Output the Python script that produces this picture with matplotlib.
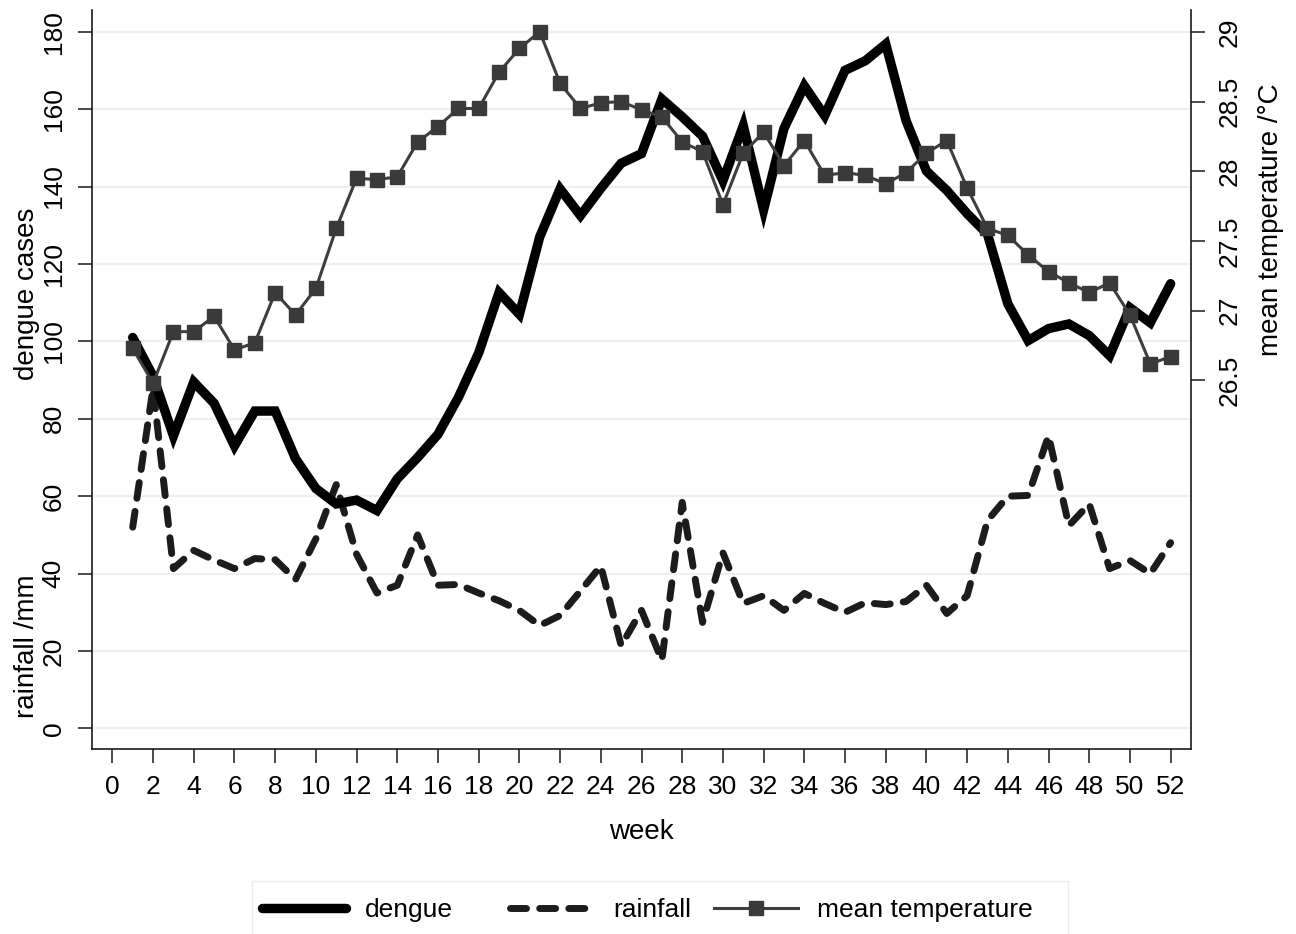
import matplotlib
matplotlib.use("Agg")
import matplotlib.pyplot as plt
from matplotlib.patches import Rectangle

plt.rcParams['font.family'] = ['Liberation Sans', 'DejaVu Sans']

weeks = list(range(1, 53))
dengue = [101, 91, 75.6, 89.5, 84, 73, 82, 82, 69.7, 62,
          58, 59, 56.3, 64.5, 70, 76, 85.5, 97, 112.6, 107,
          127, 139.4, 132.5, 139.5, 146, 148.5, 162.6, 158, 153, 141.5,
          155.7, 134, 155, 166, 158.3, 170, 172.5, 176.8, 157, 144,
          139, 133, 127.7, 109.7, 100.2, 103.3, 104.5, 101.5, 96.3, 108.7,
          104.8, 114.9]
rainfall = [52, 88, 41.3, 46, 43.5, 41.3, 43.9, 43.6, 38.5, 49,
            63, 45, 35, 37, 50, 37, 37.2, 35, 33, 30.5,
            26.6, 29.2, 35.5, 42, 21.4, 30.5, 17.6, 58.4, 27.4, 45.4,
            32.3, 34.3, 30.5, 34.9, 32.3, 30, 32.5, 32, 32.8, 37,
            29.7, 34.3, 53.7, 60, 60.2, 75.6, 52.4, 58, 41.3, 43.4,
            40, 48]
temperature = [26.73, 26.48, 26.85, 26.85, 26.96, 26.72, 26.77, 27.13, 26.97, 27.16,
               27.59, 27.95, 27.94, 27.96, 28.21, 28.32, 28.45, 28.45, 28.71, 28.88,
               29.0, 28.63, 28.45, 28.49, 28.50, 28.44, 28.39, 28.21, 28.14, 27.76,
               28.13, 28.28, 28.04, 28.22, 27.97, 27.99, 27.97, 27.91, 27.99, 28.13,
               28.22, 27.88, 27.59, 27.54, 27.40, 27.28, 27.20, 27.13, 27.20, 26.97,
               26.62, 26.67]

x_ticks = list(range(0, 53, 2))
left_ticks = list(range(0, 181, 20))
right_ticks = [26.5, 27, 27.5, 28, 28.5, 29]
right_labels = ['26.5', '27', '27.5', '28', '28.5', '29']

W, H = 1296, 934
fig = plt.figure(figsize=(W / 100, H / 100), dpi=100)
ax = fig.add_axes([92 / W, 1 - 749 / H, (1191 - 92) / W, (749 - 10) / H])
ax2 = ax.twinx()

spine_c = '#1a1a1a'
for s in ['top', 'right']:
    ax.spines[s].set_visible(False)
for s in ['left', 'bottom']:
    ax.spines[s].set_color(spine_c)
    ax.spines[s].set_linewidth(1.2)
for s in ['top', 'left', 'bottom']:
    ax2.spines[s].set_visible(False)
ax2.spines['right'].set_color(spine_c)
ax2.spines['right'].set_linewidth(1.2)

ax.set_axisbelow(True)
ax.yaxis.grid(True, color='#efefef', linewidth=1.6)

l1, = ax.plot(weeks, dengue, color='black', linewidth=6.8, solid_joinstyle='miter',
              solid_capstyle='round', zorder=3)
l2, = ax.plot(weeks, rainfall, color='#1c1c1c', linewidth=5, dashes=(2.3, 1.9),
              dash_capstyle='round', dash_joinstyle='round', zorder=2)
l3, = ax2.plot(weeks, temperature, color='#3e3e3e', linewidth=2.2, marker='s',
               markersize=9.5, markerfacecolor='#3a3a3a', markeredgecolor='#3a3a3a')

ax.set_xlim(-1, 53)
ax.set_ylim(-5.3, 185.6)
ax2.set_ylim(23.858, 29.156)

ax.set_xticks(x_ticks)
ax.set_xticklabels([str(t) for t in x_ticks], fontsize=19)
ax.set_yticks(left_ticks)
ax.set_yticklabels([str(t) for t in left_ticks], fontsize=19, rotation=90, va='center')
ax2.set_yticks(right_ticks)
ax2.set_yticklabels(right_labels, fontsize=19, rotation=90, va='center')

ax.tick_params(axis='both', direction='out', length=10, width=1.1, color=spine_c, pad=9)
ax2.tick_params(axis='y', direction='out', length=10, width=1.1, color=spine_c, pad=9)

ax.set_xlabel('week', fontsize=20, labelpad=14)

fig.text(27 / W, 1 - 294 / H, 'dengue cases', rotation=90, fontsize=20,
         ha='center', va='center')
fig.text(27 / W, 1 - 646 / H, 'rainfall /mm', rotation=90, fontsize=20,
         ha='center', va='center')
fig.text(1271 / W, 1 - 220 / H, 'mean temperature /°C', rotation=90, fontsize=20,
         ha='center', va='center')

# legend frame
fig.add_artist(Rectangle((252 / W, -0.01), (1068 - 252) / W, 0.01 + (934 - 881) / H,
                         transform=fig.transFigure, fill=False,
                         edgecolor='#ececec', linewidth=1))
leg_y = 1 - 910 / H
for handle, label, x0 in [(l1, 'dengue', 262), (l2, 'rainfall', 510),
                          (l3, 'mean temperature', 714)]:
    fig.legend(handles=[handle], labels=[label], loc='center left',
               bbox_to_anchor=(x0 / W, leg_y), frameon=False, borderpad=0,
               borderaxespad=0, handlelength=3.2, handletextpad=0.7,
               fontsize=19, numpoints=1)

fig.savefig('out.png', dpi=100)
